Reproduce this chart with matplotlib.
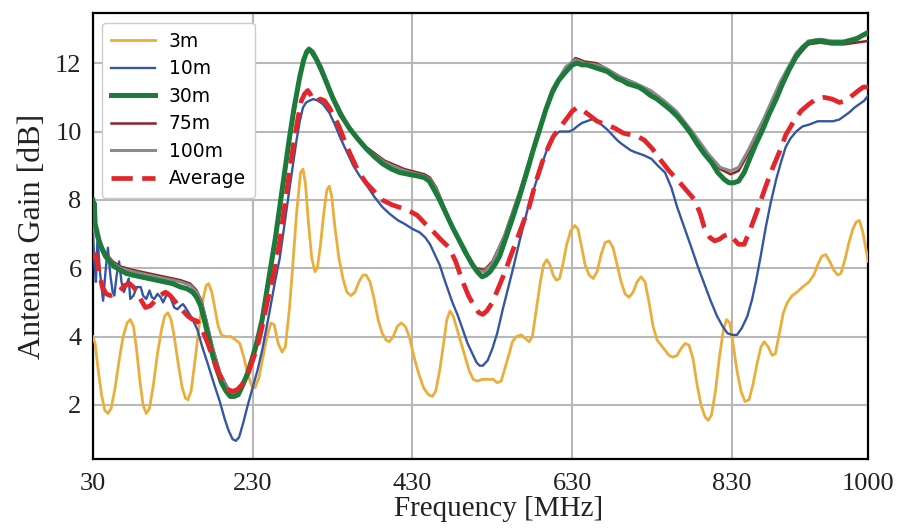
import matplotlib
matplotlib.use("Agg")
import matplotlib.pyplot as plt

# ---- data (frequency in MHz, gain in dB) ----
f_3m = [30, 33, 37, 41, 45, 49, 53, 58, 63, 68, 73, 77, 81, 85, 89, 93, 97, 101, 106, 111,
        116, 120, 124, 128, 132, 137, 142, 146, 149, 153, 158, 163, 168, 172, 175, 179, 183, 187, 191, 196,
        203, 209, 214, 219, 224, 229, 233, 238, 243, 248, 253, 257, 262, 267, 271, 276, 280, 285, 290, 293,
        296, 300, 304, 308, 311, 315, 319, 323, 326, 329, 333, 338, 343, 348, 353, 358, 363, 368, 372, 377,
        382, 387, 392, 397, 401, 406, 411, 416, 421, 426, 432, 438, 444, 450, 455, 459, 464, 469, 473, 477,
        481, 486, 491, 496, 501, 506, 511, 518, 525, 531, 536, 541, 546, 551, 555, 560, 566, 571, 576, 580,
        585, 590, 594, 598, 602, 606, 610, 614, 618, 623, 628, 633, 637, 641, 646, 651, 656, 661, 666, 671,
        676, 681, 686, 691, 696, 701, 706, 711, 716, 721, 726, 731, 736, 741, 746, 751, 756, 761, 766, 771,
        776, 781, 786, 791, 796, 800, 804, 809, 814, 819, 823, 827, 831, 836, 841, 846, 851, 856, 861, 866,
        870, 875, 880, 884, 889, 894, 899, 905, 911, 918, 926, 932, 937, 942, 947, 952, 957, 962, 966, 971,
        976, 981, 985, 989, 993, 997, 1000]
g_3m = [4.0, 3.8, 3.0, 2.3, 1.85, 1.75, 1.9, 2.5, 3.3, 4.0, 4.4, 4.5, 4.3, 3.6, 2.7, 2.0, 1.75, 1.9, 2.6, 3.5,
        4.2, 4.6, 4.7, 4.5, 4.0, 3.2, 2.5, 2.2, 2.15, 2.4, 3.3, 4.3, 5.1, 5.5, 5.55, 5.3, 4.8, 4.3, 4.05, 4.0,
        4.0, 3.9, 3.8, 3.4, 2.9, 2.55, 2.5, 2.8, 3.4, 4.0, 4.4, 4.35, 3.8, 3.55, 3.7, 4.8, 6.0, 7.6, 8.8, 8.9,
        8.5, 7.3, 6.3, 5.9, 6.0, 6.7, 7.6, 8.3, 8.4, 8.1, 7.2, 6.3, 5.7, 5.3, 5.2, 5.3, 5.6, 5.8, 5.8, 5.6,
        5.1, 4.5, 4.1, 3.9, 3.85, 4.0, 4.3, 4.4, 4.3, 4.0, 3.4, 2.9, 2.5, 2.3, 2.25, 2.4, 3.0, 3.8, 4.5, 4.75,
        4.6, 4.2, 3.8, 3.4, 3.0, 2.75, 2.7, 2.75, 2.75, 2.75, 2.65, 2.7, 3.1, 3.5, 3.85, 4.0, 4.05, 3.95, 3.85, 4.0,
        4.8, 5.6, 6.1, 6.25, 6.1, 5.8, 5.65, 5.7, 6.1, 6.7, 7.1, 7.25, 7.15, 6.7, 6.1, 5.8, 5.7, 5.9, 6.4, 6.75,
        6.8, 6.6, 6.1, 5.6, 5.25, 5.15, 5.3, 5.6, 5.75, 5.6, 5.0, 4.3, 3.9, 3.75, 3.6, 3.45, 3.4, 3.45, 3.65, 3.8,
        3.75, 3.35, 2.6, 2.0, 1.65, 1.55, 1.7, 2.4, 3.4, 4.2, 4.5, 4.4, 3.8, 3.0, 2.4, 2.1, 2.15, 2.6, 3.2, 3.7,
        3.85, 3.7, 3.45, 3.5, 4.1, 4.7, 5.0, 5.2, 5.3, 5.45, 5.6, 5.8, 6.1, 6.35, 6.4, 6.2, 5.95, 5.8, 5.85, 6.25,
        6.75, 7.15, 7.35, 7.4, 7.1, 6.6, 6.2]

f_10m = [30, 32, 34, 36, 39, 43, 46, 49, 52, 55, 57, 60, 63, 66, 69, 72, 75, 77, 81, 85,
         90, 93, 97, 101, 104, 107, 111, 115, 118, 121, 124, 128, 132, 136, 140, 143, 146, 150, 155, 161,
         167, 174, 182, 189, 195, 200, 205, 209, 213, 218, 224, 230, 236, 242, 251, 258, 264, 270, 276, 281,
         285, 289, 293, 297, 301, 306, 312, 318, 326, 333, 340, 347, 356, 364, 372, 382, 392, 401, 412, 420,
         430, 439, 446, 452, 458, 464, 471, 480, 487, 493, 499, 505, 510, 514, 518, 524, 530, 536, 543, 551,
         557, 564, 570, 576, 583, 589, 595, 601, 608, 614, 620, 626, 631, 636, 642, 648, 654, 658, 664, 669,
         674, 680, 686, 691, 697, 703, 708, 714, 720, 729, 737, 746, 754, 761, 770, 779, 787, 795, 803, 811,
         818, 824, 830, 836, 842, 849, 855, 860, 866, 872, 878, 885, 891, 897, 903, 910, 918, 926, 937, 947,
         956, 964, 970, 976, 983, 989, 995, 1000]
g_10m = [7.2, 6.2, 5.6, 6.9, 5.9, 5.05, 5.9, 6.6, 5.8, 5.3, 5.2, 5.8, 6.2, 5.6, 5.3, 5.5, 5.7, 5.1, 5.2, 5.45,
         5.45, 5.2, 5.1, 5.35, 5.15, 5.1, 5.25, 5.15, 5.0, 5.15, 5.3, 5.1, 4.85, 4.8, 4.9, 4.95, 4.85, 4.7, 4.5, 4.2,
         3.7, 3.2, 2.6, 2.1, 1.6, 1.25, 1.0, 0.95, 1.05, 1.45, 2.0, 2.5, 3.0, 3.6, 4.7, 5.6, 6.3, 7.3, 8.3, 9.1,
         9.75, 10.3, 10.7, 10.85, 10.9, 10.95, 10.9, 10.8, 10.55, 10.2, 9.8, 9.45, 9.0, 8.7, 8.45, 8.1, 7.8, 7.6, 7.4, 7.3,
         7.15, 7.05, 6.9, 6.7, 6.4, 6.1, 5.6, 5.0, 4.6, 4.2, 3.8, 3.5, 3.25, 3.15, 3.15, 3.3, 3.65, 4.1, 4.8, 5.55,
         6.1, 6.8, 7.35, 7.9, 8.4, 8.85, 9.25, 9.65, 9.9, 10.0, 10.0, 10.0, 10.05, 10.15, 10.25, 10.3, 10.35, 10.35, 10.25, 10.15,
         10.05, 9.9, 9.75, 9.65, 9.55, 9.45, 9.4, 9.35, 9.3, 9.2, 9.0, 8.8, 8.35, 7.8, 7.2, 6.6, 6.05, 5.55, 5.05, 4.6,
         4.3, 4.1, 4.05, 4.05, 4.25, 4.6, 5.1, 5.65, 6.4, 7.2, 7.9, 8.6, 9.1, 9.55, 9.8, 10.0, 10.15, 10.2, 10.3, 10.3,
         10.3, 10.35, 10.45, 10.55, 10.7, 10.8, 10.9, 11.05]

f_30m = [30, 31, 32, 33, 35, 38, 42, 46, 51, 57, 64, 72, 80, 90, 100, 110, 120, 130, 140, 148,
         155, 160, 165, 170, 175, 180, 186, 191, 197, 202, 207, 212, 218, 224, 230, 236, 242, 251, 258, 264,
         270, 276, 282, 289, 294, 298, 301, 305, 310, 316, 323, 330, 340, 351, 361, 372, 383, 393, 404, 414,
         425, 436, 445, 451, 457, 464, 472, 480, 489, 498, 505, 511, 517, 522, 527, 533, 539, 547, 555, 564,
         573, 581, 589, 597, 605, 613, 622, 630, 636, 642, 648, 655, 661, 668, 674, 680, 686, 692, 699, 706,
         713, 720, 728, 736, 744, 752, 761, 770, 778, 786, 795, 804, 812, 820, 826, 832, 838, 845, 851, 859,
         868, 876, 885, 893, 901, 909, 918, 926, 935, 943, 951, 960, 968, 976, 985, 992, 1000]
g_30m = [8.0, 7.4, 7.9, 7.3, 7.1, 6.8, 6.55, 6.35, 6.2, 6.05, 5.95, 5.85, 5.8, 5.75, 5.7, 5.65, 5.6, 5.55, 5.45, 5.4,
         5.3, 5.15, 4.9, 4.45, 3.95, 3.45, 3.0, 2.65, 2.4, 2.25, 2.25, 2.3, 2.6, 2.95, 3.4, 3.9, 4.5, 5.8, 6.8, 7.8,
         8.8, 9.8, 10.7, 11.6, 12.1, 12.35, 12.4, 12.3, 12.1, 11.8, 11.4, 11.0, 10.5, 10.1, 9.8, 9.5, 9.25, 9.05, 8.9, 8.8,
         8.75, 8.7, 8.65, 8.55, 8.3, 8.0, 7.6, 7.2, 6.8, 6.4, 6.1, 5.9, 5.75, 5.8, 5.9, 6.1, 6.35, 6.9, 7.45, 8.1,
         8.8, 9.45, 10.05, 10.65, 11.15, 11.5, 11.75, 11.95, 12.0, 11.95, 11.95, 11.9, 11.85, 11.8, 11.75, 11.65, 11.55, 11.5, 11.4, 11.35,
         11.3, 11.2, 11.05, 10.95, 10.8, 10.65, 10.45, 10.2, 9.95, 9.65, 9.35, 9.1, 8.8, 8.6, 8.5, 8.5, 8.55, 8.8, 9.15, 9.6,
         10.05, 10.5, 10.95, 11.4, 11.8, 12.15, 12.45, 12.6, 12.65, 12.65, 12.6, 12.6, 12.6, 12.65, 12.7, 12.8, 12.9]

f_75m = [30, 32, 35, 40, 46, 55, 65, 80, 100, 120, 140, 152, 160, 166, 172, 180, 190, 200, 208, 216,
         226, 238, 252, 266, 280, 292, 300, 306, 316, 330, 350, 372, 395, 420, 445, 452, 460, 475, 495, 510,
         520, 530, 545, 565, 585, 605, 622, 634, 645, 660, 672, 690, 710, 728, 745, 760, 780, 800, 815, 828,
         838, 850, 870, 890, 910, 925, 940, 955, 970, 985, 1000]
g_75m = [7.6, 7.2, 7.0, 6.7, 6.45, 6.2, 6.05, 5.95, 5.85, 5.75, 5.65, 5.55, 5.35, 5.05, 4.5, 3.7, 2.9, 2.45, 2.35, 2.45,
         2.95, 3.9, 5.9, 8.0, 10.3, 11.95, 12.4, 12.3, 11.85, 11.05, 10.15, 9.55, 9.15, 8.9, 8.75, 8.65, 8.35, 7.5, 6.5, 6.0,
         5.95, 6.2, 6.95, 8.3, 9.8, 11.2, 11.85, 12.15, 12.05, 12.0, 11.85, 11.6, 11.4, 11.15, 10.85, 10.55, 9.95, 9.3, 8.9, 8.75,
         8.85, 9.35, 10.3, 11.3, 12.15, 12.55, 12.6, 12.55, 12.55, 12.6, 12.65]

f_100m = [30, 32, 35, 40, 46, 55, 65, 80, 100, 120, 140, 152, 160, 166, 172, 180, 190, 200, 208, 216,
          226, 238, 252, 266, 280, 292, 300, 306, 316, 330, 350, 372, 395, 420, 445, 452, 460, 475, 495, 510,
          520, 530, 545, 565, 585, 605, 622, 634, 645, 660, 672, 690, 710, 728, 745, 760, 780, 800, 815, 828,
          838, 850, 870, 890, 910, 925, 940, 955, 970, 985, 1000]
g_100m = [7.3, 7.1, 6.9, 6.6, 6.4, 6.15, 6.0, 5.9, 5.8, 5.7, 5.6, 5.5, 5.3, 5.0, 4.45, 3.65, 2.85, 2.4, 2.3, 2.45,
          3.0, 4.0, 6.0, 8.1, 10.4, 12.0, 12.45, 12.35, 11.9, 11.05, 10.1, 9.5, 9.1, 8.85, 8.7, 8.6, 8.3, 7.45, 6.45, 5.95,
          5.9, 6.15, 6.95, 8.3, 9.85, 11.25, 11.9, 12.1, 12.0, 11.95, 11.85, 11.6, 11.4, 11.2, 10.9, 10.6, 10.0, 9.35, 8.95, 8.85,
          8.95, 9.45, 10.4, 11.45, 12.3, 12.65, 12.7, 12.65, 12.65, 12.75, 12.85]

f_avg = [30, 34, 38, 42, 47, 52, 58, 64, 70, 76, 81, 86, 91, 96, 102, 108, 114, 121, 127, 134,
         141, 149, 155, 161, 167, 174, 180, 186, 193, 199, 205, 211, 217, 224, 230, 236, 243, 251, 258, 264,
         270, 276, 281, 286, 291, 295, 299, 302, 306, 310, 315, 320, 326, 333, 339, 347, 355, 363, 372, 380,
         392, 405, 418, 428, 436, 446, 455, 465, 476, 484, 493, 500, 507, 513, 518, 523, 530, 537, 545, 552,
         560, 568, 576, 584, 593, 600, 606, 614, 622, 630, 636, 641, 650, 661, 672, 683, 694, 704, 712, 720,
         730, 741, 751, 761, 772, 783, 790, 795, 802, 808, 814, 820, 826, 832, 838, 845, 852, 860, 866, 872,
         880, 889, 897, 907, 916, 926, 935, 945, 955, 964, 972, 980, 988, 994, 1000]
g_avg = [6.3, 6.4, 5.9, 5.45, 5.25, 5.2, 5.25, 5.35, 5.5, 5.55, 5.45, 5.3, 5.05, 4.85, 4.9, 5.05, 5.2, 5.3, 5.2, 5.0,
         4.8, 4.6, 4.5, 4.45, 4.2, 3.8, 3.4, 3.0, 2.7, 2.45, 2.4, 2.45, 2.6, 2.9, 3.3, 3.7, 4.4, 5.3, 6.0, 6.8,
         7.8, 8.8, 9.6, 10.3, 10.9, 11.1, 11.2, 11.1, 10.9, 10.9, 10.95, 10.9, 10.7, 10.4, 10.1, 9.6, 9.2, 8.8, 8.5, 8.3,
         8.0, 7.85, 7.75, 7.65, 7.55, 7.3, 7.1, 6.85, 6.6, 6.2, 5.6, 5.2, 4.9, 4.7, 4.65, 4.75, 5.0, 5.4, 5.85, 6.3,
         6.8, 7.3, 7.8, 8.5, 9.15, 9.55, 9.85, 10.1, 10.35, 10.6, 10.7, 10.65, 10.5, 10.3, 10.2, 10.1, 9.95, 9.9, 9.85, 9.75,
         9.5, 9.15, 8.85, 8.6, 8.3, 8.0, 7.6, 7.2, 6.9, 6.8, 6.85, 6.95, 7.0, 6.85, 6.7, 6.7, 7.1, 7.6, 8.0, 8.4,
         8.9, 9.4, 9.9, 10.3, 10.6, 10.8, 10.95, 11.0, 10.95, 10.85, 10.9, 11.05, 11.2, 11.3, 11.3]

xticks = [30, 230, 430, 630, 830, 1000]
yticks = [2, 4, 6, 8, 10, 12]

fig = plt.figure(figsize=(9.09, 5.30), dpi=100)
ax = fig.add_axes([0.102, 0.134, 0.853, 0.841])

ax.plot(f_3m, g_3m, color="#EBAE3C", lw=2.0, label="3m", zorder=3)
ax.plot(f_10m, g_10m, color="#3556A3", lw=1.7, label="10m", zorder=4)
ax.plot(f_75m, g_75m, color="#8E2424", lw=1.8, label="75m", zorder=5)
ax.plot(f_100m, g_100m, color="#8A8A8A", lw=2.2, label="100m", zorder=5)
ax.plot(f_30m, g_30m, color="#1C7A3A", lw=3.6, label="30m", zorder=6)
ax.plot(f_avg, g_avg, color="#E2262B", lw=3.4, ls=(0, (4.5, 2.0)), label="Average", zorder=7)

ax.set_xlim(30, 1000)
ax.set_ylim(0.42, 13.46)
ax.set_xticks(xticks)
ax.set_yticks(yticks)
ax.grid(True, color="#b8b8b8", lw=1.5)
ax.set_axisbelow(True)
for s in ax.spines.values():
    s.set_color("black")
    s.set_linewidth(1.6)
ax.tick_params(length=0, pad=8, labelsize=19, labelcolor="#222222")
ax.tick_params(axis="x", pad=10)
for lab in ax.get_xticklabels() + ax.get_yticklabels():
    lab.set_family("Liberation Serif")

ax.set_xlabel("Frequency [MHz]", family="Liberation Serif", fontsize=21, color="#222222")
ax.xaxis.set_label_coords(0.523, -0.084)
ax.xaxis.label.set_va("top")
ax.set_ylabel("Antenna Gain [dB]", family="Liberation Serif", fontsize=23, labelpad=6, color="#222222")

# legend in the original order
h, l = ax.get_legend_handles_labels()
order = ["3m", "10m", "30m", "75m", "100m", "Average"]
hh = [h[l.index(n)] for n in order]
ax.legend(hh, order, loc="upper left", handlelength=2.3, handletextpad=0.75, labelspacing=0.45,
          borderpad=0.5, framealpha=1, edgecolor="#cccccc", prop={"family": "DejaVu Sans", "size": 13.5})

fig.savefig("out.png", dpi=100)
